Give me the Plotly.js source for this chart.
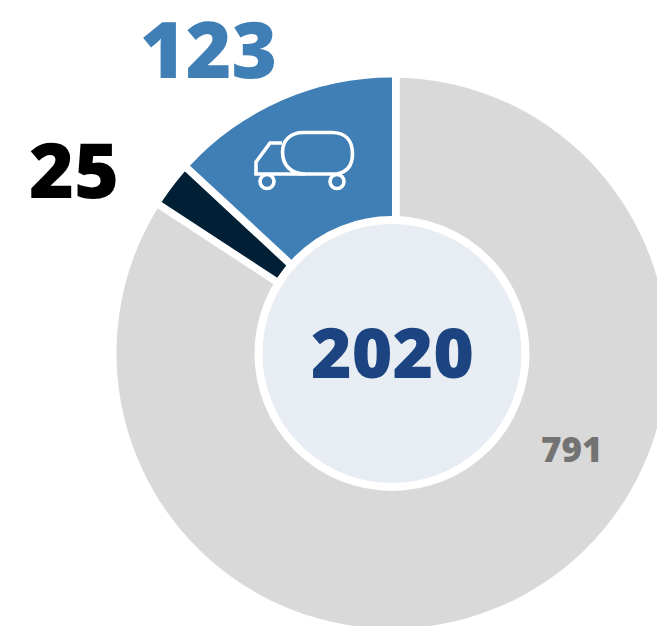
<!DOCTYPE html>
<html>
<head>
<meta charset="utf-8">
<script src="https://cdn.plot.ly/plotly-3.0.1.min.js"></script>
<style>html,body{margin:0;padding:0;background:#fff;overflow:hidden;width:657px;height:626px}#c{width:657px;height:626px;overflow:hidden}</style>
</head>
<body>
<div id="c"></div>
<script>
const categories = ['Other', 'Black', 'Blue'];
const values = [791, 25, 123];
const colors = ['#D9D9D9', '#012035', '#3F7FB5'];
const yearLabel = '2020';

const W = 784, H = 704, R = 275.5, FONT = '"Open Sans", sans-serif';
const NONE = 'rgba(0,0,0,0)';
const px = x => x / W, py = y => 1 - y / H;
function circle(cx, cy, r, fill, line, lw) {
  return {type:'circle', xref:'paper', yref:'paper', x0:px(cx-r), x1:px(cx+r), y0:py(cy+r), y1:py(cy-r),
    fillcolor:fill, line:{color:line, width:lw}};
}
function P(d) {
  return {type:'path', xref:'paper', yref:'paper', line:{color:'#fff', width:3.6}, fillcolor:NONE,
    path:d.replace(/(-?[\d.]+),(-?[\d.]+)/g, (m,a,b)=> px(+a)+','+py(+b))};
}
function label(text, x, y, size, color) {
  return {text:String(text), xref:'paper', yref:'paper', x:px(x), y:py(y), xanchor:'center', yanchor:'middle',
    showarrow:false, font:{family:FONT, size:size, color:color, weight:800}};
}
// the same slices stacked: each later slice casts a white edge over the one beneath
function ring(fills, lines) {
  return {
    type:'pie', labels:categories, values:values, sort:false, direction:'clockwise', rotation:0,
    hole:0.45, textinfo:'none', hoverinfo:'skip',
    domain:{x:[(392-R)/W,(392+R)/W], y:[1-(353+R)/H,1-(353-R)/H]},
    marker:{colors:fills, line:{color:'#fff', width:lines}}
  };
}
const traces = [
  ring([colors[0], colors[0], colors[0]], [0,0,0]),
  ring([NONE, NONE, colors[0]], [0,15,0]),
  ring([NONE, colors[1], NONE], [0,0,15.5]),
  ring([NONE, NONE, colors[2]], [0,0,0])
];
const layout = {
  width:W, height:H, margin:{l:0,r:0,t:0,b:0}, paper_bgcolor:'#fff', showlegend:false,
  shapes:[
    circle(392, 353.5, 133.5, '#E8EDF4', '#fff', 8),
    P('M 282.5,152 C 282.5,140 291,132.5 303,132.5 L 332,132.5 C 345,132.5 352.5,140 352.5,154 C 352.5,165 347,172 337,174 L 305,174 C 291,174 282.5,165 282.5,152 Z'),
    P('M 282,143 L 270,143 L 256,162 L 256,174 L 305,174'),
    circle(267, 181.5, 7, NONE, '#fff', 3.6),
    circle(337, 181.5, 7, NONE, '#fff', 3.6)
  ],
  annotations:[
    label(values[2], 208.5, 48, 78, colors[2]),
    label(values[1], 74, 168.5, 77, '#000'),
    label(values[0], 572, 448.5, 35, '#737373'),
    label(yearLabel, 392, 351, 69.5, '#1B4480')
  ]
};
Plotly.newPlot('c', traces, layout, {displayModeBar:false, staticPlot:true});
</script>
</body>
</html>
